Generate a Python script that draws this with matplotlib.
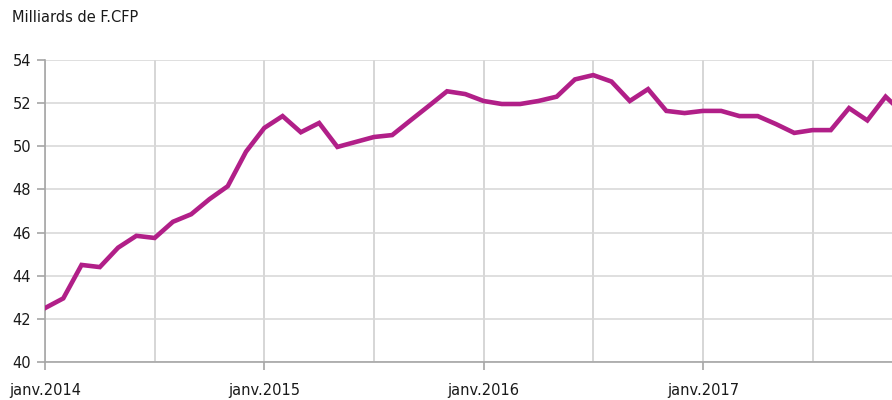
import numpy as np
import matplotlib
matplotlib.use("Agg")
import matplotlib.pyplot as plt

# monthly values, janv.2014 -> dec.2017 (Milliards de F.CFP)
values = [42.5, 42.95, 44.5, 44.4, 45.3, 45.85, 45.75, 46.5, 46.85, 47.55, 48.15, 49.75,
          50.85, 51.4, 50.65, 51.08, 49.97, 50.2, 50.43, 50.52, 51.2, 51.87, 52.55, 52.42,
          52.1, 51.96, 51.96, 52.1, 52.3, 53.1, 53.3, 53.0, 52.1, 52.65, 51.64, 51.54,
          51.64, 51.64, 51.4, 51.4, 51.03, 50.62, 50.75, 50.75, 51.77, 51.2, 52.3, 51.5]
year_labels = ["janv.2014", "janv.2015", "janv.2016", "janv.2017"]
y_ticks = [40, 42, 44, 46, 48, 50, 52, 54]

months = np.arange(len(values))

plt.rcParams['font.family'] = ['DejaVu Sans']

fig = plt.figure(figsize=(8.92, 4.0), dpi=100)
ax = fig.add_axes([45/892, 1-362/400, 1-45/892, (362-60)/400])

ax.plot(months, values, color='#b11f88', linewidth=3.3, solid_joinstyle='miter', zorder=3)

ax.set_ylim(40, 54)
ax.set_xlim(0, 46.35)
ax.set_yticks(y_ticks)
ax.set_xticks(range(0, 48, 12))
ax.set_xticklabels(year_labels)
ax.set_xticks(range(6, 48, 12), minor=True)

ax.grid(axis='y', color='#d9d9d9', linewidth=1.2)
ax.grid(axis='x', which='both', color='#d0d0d0', linewidth=1.2)
ax.set_axisbelow(True)

for s in ['top', 'right']:
    ax.spines[s].set_visible(False)
for s in ['left', 'bottom']:
    ax.spines[s].set_color('#a6a6a6')
    ax.spines[s].set_linewidth(1.2)

ax.tick_params(axis='y', length=6, color='#a6a6a6', width=1.2, labelsize=10.5, pad=4, labelcolor='#1a1a1a')
ax.tick_params(axis='x', which='major', length=6, color='#a6a6a6', width=1.2, labelsize=10.5, pad=9, labelcolor='#1a1a1a')
ax.tick_params(axis='x', which='minor', length=0)

fig.text(12/892, 1-18/400, "Milliards de F.CFP", fontsize=10.5, color='#1a1a1a', va='center', ha='left')

fig.savefig("out.png", dpi=100)
